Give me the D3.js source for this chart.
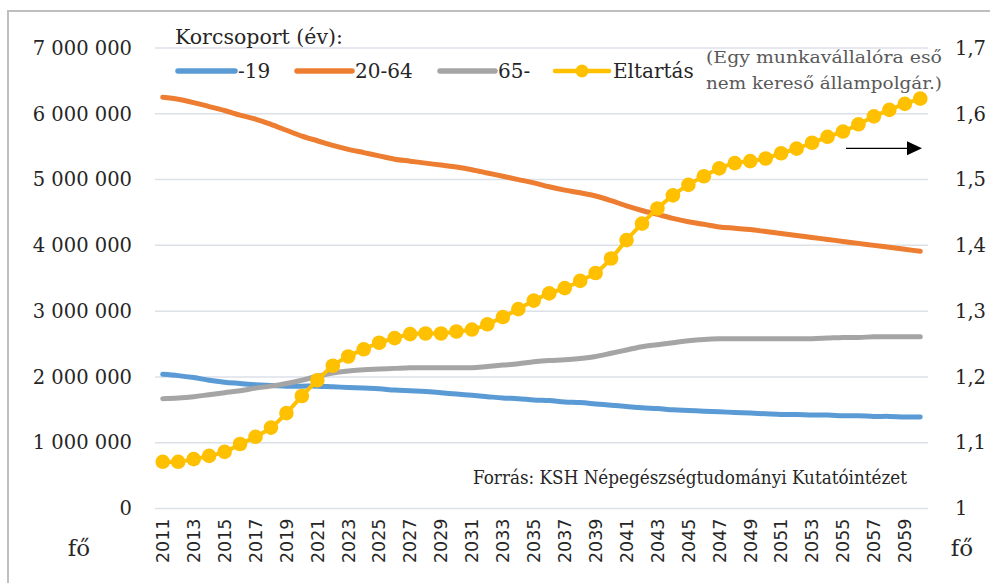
<!DOCTYPE html>
<html>
<head>
<meta charset="utf-8">
<script src="https://cdn.jsdelivr.net/npm/d3@7"></script>
<style>
  html, body { margin: 0; padding: 0; background: #fff; }
  svg { display: block; }
</style>
</head>
<body>
<svg id="chart" width="990" height="583"></svg>
<script>
// ---- data ----
const years = [2011,2012,2013,2014,2015,2016,2017,2018,2019,2020,
               2021,2022,2023,2024,2025,2026,2027,2028,2029,2030,
               2031,2032,2033,2034,2035,2036,2037,2038,2039,2040,
               2041,2042,2043,2044,2045,2046,2047,2048,2049,2050,
               2051,2052,2053,2054,2055,2056,2057,2058,2059,2060];
const yearTicks = [2011,2013,2015,2017,2019,2021,2023,2025,2027,2029,2031,2033,2035,
                   2037,2039,2041,2043,2045,2047,2049,2051,2053,2055,2057,2059];
const leftTicks = [0,1000000,2000000,3000000,4000000,5000000,6000000,7000000];
const rightTicks = [1,1.1,1.2,1.3,1.4,1.5,1.6,1.7];

const young = [2040000,2020000,1990000,1950000,1920000,1900000,1880000,1870000,1860000,1860000,
               1860000,1850000,1840000,1830000,1820000,1800000,1790000,1780000,1760000,1740000,
               1720000,1700000,1680000,1670000,1650000,1640000,1620000,1610000,1590000,1570000,
               1550000,1530000,1520000,1500000,1490000,1480000,1470000,1460000,1450000,1440000,
               1430000,1430000,1420000,1420000,1410000,1410000,1400000,1400000,1390000,1390000];
const working = [6250000,6220000,6170000,6110000,6050000,5980000,5920000,5840000,5750000,5660000,
                 5590000,5520000,5460000,5410000,5360000,5310000,5280000,5250000,5220000,5190000,
                 5150000,5100000,5050000,5000000,4950000,4890000,4840000,4800000,4750000,4680000,
                 4600000,4530000,4470000,4410000,4360000,4320000,4280000,4260000,4240000,4210000,
                 4180000,4150000,4120000,4090000,4060000,4030000,4000000,3970000,3940000,3910000];
const elderly = [1670000,1680000,1700000,1730000,1760000,1790000,1830000,1860000,1900000,1950000,
                 2010000,2060000,2090000,2110000,2120000,2130000,2140000,2140000,2140000,2140000,
                 2140000,2160000,2180000,2200000,2230000,2250000,2260000,2280000,2310000,2360000,
                 2410000,2460000,2490000,2520000,2550000,2570000,2580000,2580000,2580000,2580000,
                 2580000,2580000,2580000,2590000,2600000,2600000,2610000,2610000,2610000,2610000];
const dependency = [1.071,1.071,1.075,1.080,1.086,1.098,1.109,1.123,1.145,1.171,
                    1.195,1.217,1.231,1.242,1.252,1.259,1.265,1.266,1.266,1.269,
                    1.272,1.280,1.291,1.303,1.316,1.327,1.335,1.346,1.358,1.380,
                    1.408,1.433,1.456,1.476,1.492,1.505,1.517,1.525,1.528,1.532,
                    1.540,1.547,1.556,1.565,1.573,1.584,1.596,1.606,1.615,1.623];

const seriesNames = ["-19", "20-64", "65-", "Eltartás"];
const legendTitle = "Korcsoport (év):";
const noteLines = ["(Egy munkavállalóra eső", "nem kereső állampolgár.)"];
const sourceText = "Forrás: KSH Népegészségtudományi Kutatóintézet";
const unitLabel = "fő";

// ---- styles ----
const colors = ["#5B9BD5", "#ED7D31", "#A5A5A5", "#FFC000"];
const serif = "'DejaVu Serif', serif";
const sans = "'DejaVu Sans', sans-serif";
const textColor = "#262626";
const gridColor = "#DCE1E8";

const svg = d3.select("#chart");
const plot = { left: 155, right: 928, top: 48, bottom: 508.5 };

const x = d3.scaleBand().domain(years).range([plot.left, plot.right]);
const cx = d => x(d) + x.bandwidth() / 2;
const y = d3.scaleLinear().domain([0, 7000000]).range([plot.bottom, plot.top]);
const y2 = d3.scaleLinear().domain([1, 1.7]).range([plot.bottom, plot.top]);

const huLocale = d3.formatLocale({ decimal: ",", thousands: "\u00a0", grouping: [3], currency: ["", ""] });
const fmtLeft = huLocale.format(",");
const fmtRight = huLocale.format(".1~f");

// frame
svg.append("rect")
  .attr("x", 8).attr("y", 11).attr("width", 1100).attr("height", 700)
  .attr("fill", "none").attr("stroke", "#BFBFBF").attr("stroke-width", 2);

// gridlines
svg.append("g").selectAll("line").data(leftTicks).join("line")
  .attr("x1", plot.left).attr("x2", plot.right)
  .attr("y1", d => y(d)).attr("y2", d => y(d))
  .attr("stroke", gridColor).attr("stroke-width", 1.5);

// left axis
const gL = svg.append("g").attr("transform", `translate(${plot.left},0)`)
  .call(d3.axisLeft(y).tickValues(leftTicks).tickSize(0).tickPadding(23).tickFormat(fmtLeft));
gL.select(".domain").remove();
gL.selectAll("text").attr("font-family", serif).attr("font-size", 19.5).attr("fill", textColor);

// right axis
const gR = svg.append("g").attr("transform", `translate(${plot.right},0)`)
  .call(d3.axisRight(y2).tickValues(rightTicks).tickSize(0).tickPadding(27).tickFormat(fmtRight));
gR.select(".domain").remove();
gR.selectAll("text").attr("font-family", serif).attr("font-size", 19.5).attr("fill", textColor);

// bottom axis
const gB = svg.append("g").attr("transform", `translate(0,${plot.bottom})`)
  .call(d3.axisBottom(x).tickValues(yearTicks).tickSize(0));
gB.select(".domain").remove();
gB.selectAll("text")
  .attr("font-family", sans).attr("font-size", 17.5).attr("fill", textColor)
  .attr("y", 0).attr("x", -10).attr("dy", "0.36em")
  .attr("transform", "rotate(-90)").style("text-anchor", "end");

// unit labels
svg.append("text").attr("x", 79).attr("y", 556).attr("text-anchor", "middle")
  .attr("font-family", serif).attr("font-size", 23).attr("fill", textColor).text(unitLabel);
svg.append("text").attr("x", 962).attr("y", 556).attr("text-anchor", "middle")
  .attr("font-family", serif).attr("font-size", 23).attr("fill", textColor).text(unitLabel);

// source
svg.append("text").attr("x", 473).attr("y", 484)
  .attr("font-family", serif).attr("font-size", 18).attr("fill", textColor)
  .attr("textLength", 434).attr("lengthAdjust", "spacingAndGlyphs")
  .text(sourceText);

// lines
const curve = d3.curveCatmullRom.alpha(0.5);
const popSeries = [young, working, elderly];
popSeries.forEach((vals, i) => {
  svg.append("path")
    .datum(vals)
    .attr("fill", "none").attr("stroke", colors[i]).attr("stroke-width", 5)
    .attr("stroke-linecap", "round").attr("stroke-linejoin", "round")
    .attr("d", d3.line().x((d, j) => cx(years[j])).y(d => y(d)).curve(curve));
});

svg.append("path")
  .datum(dependency)
  .attr("fill", "none").attr("stroke", colors[3]).attr("stroke-width", 4)
  .attr("d", d3.line().x((d, j) => cx(years[j])).y(d => y2(d)).curve(curve));
svg.append("g").selectAll("circle").data(dependency).join("circle")
  .attr("cx", (d, j) => cx(years[j])).attr("cy", d => y2(d)).attr("r", 7.3)
  .attr("fill", colors[3]);

// arrow
svg.append("line").attr("x1", 846).attr("x2", 908).attr("y1", 148.3).attr("y2", 148.3)
  .attr("stroke", "#000").attr("stroke-width", 1.2);
svg.append("path").attr("d", "M907,141.3 L922,148.3 L907,155.3 Z").attr("fill", "#000");

// legend
svg.append("text").attr("x", 175).attr("y", 44)
  .attr("font-family", serif).attr("font-size", 20).attr("fill", textColor)
  .attr("textLength", 168).attr("lengthAdjust", "spacingAndGlyphs")
  .text(legendTitle);

const legendItems = [
  { x1: 178, x2: 235, tx: 238 },
  { x1: 297, x2: 352, tx: 355 },
  { x1: 440, x2: 495, tx: 498 },
  { x1: 555, x2: 609, tx: 613 }
];
const legendY = 71;
legendItems.forEach((it, i) => {
  svg.append("line").attr("x1", it.x1).attr("x2", it.x2).attr("y1", legendY).attr("y2", legendY)
    .attr("stroke", colors[i]).attr("stroke-width", i === 3 ? 4.5 : 5.5).attr("stroke-linecap", "round");
  if (i === 3) {
    svg.append("circle").attr("cx", (it.x1 + it.x2) / 2).attr("cy", legendY).attr("r", 6.5).attr("fill", colors[i]);
  }
  svg.append("text").attr("x", it.tx).attr("y", legendY).attr("dy", "0.36em")
    .attr("font-family", serif).attr("font-size", 20).attr("fill", textColor)
    .text(seriesNames[i]);
});

// note
noteLines.forEach((t, i) => {
  svg.append("text").attr("x", 706).attr("y", 63 + i * 26)
    .attr("font-family", serif).attr("font-size", 17.5).attr("fill", "#595959")
    .attr("textLength", 236).attr("lengthAdjust", "spacingAndGlyphs")
    .text(t);
});
</script>
</body>
</html>
